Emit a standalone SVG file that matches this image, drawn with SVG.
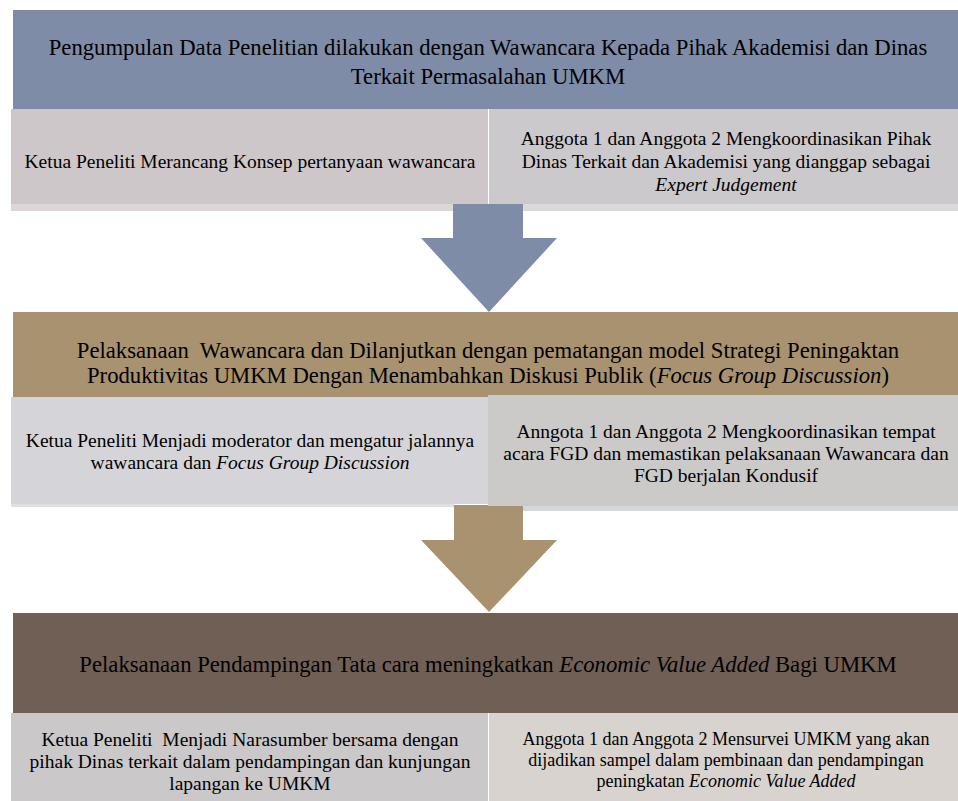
<svg xmlns="http://www.w3.org/2000/svg" width="958" height="801" viewBox="0 0 958 801">
<style>
text{font-family:"Liberation Serif","Times New Roman",serif;fill:#000;text-anchor:middle}
.b{font-size:22.7px}
.s{font-size:19.5px}
.s2{font-size:18px}
.i{font-style:italic}
</style>
<rect width="958" height="801" fill="#fff"/>
<g id="connectors">
<path id="arrow1" d="M453 204H523V238H557L489 312L421 238H453Z" fill="#7f8ca8"/>
<path id="arrow2" d="M454 505H523V540H557L489 612L421 540H454Z" fill="#a9926f"/>
</g>
<g id="step1">
<rect x="13" y="10" width="945" height="99" fill="#7f8ca8"/>
<text class="b" x="488" y="55">Pengumpulan Data Penelitian dilakukan dengan Wawancara Kepada Pihak Akademisi dan Dinas</text>
<text class="b" x="488" y="84">Terkait Permasalahan UMKM</text>
</g>
<g id="step1-left">
<rect x="11" y="109" width="477" height="95" fill="#cdc7c9"/>
<rect x="11" y="204" width="442" height="7" fill="#ddd6d7"/>
<text class="s" x="250" y="168">Ketua Peneliti Merancang Konsep pertanyaan wawancara</text>
</g>
<g id="step1-right">
<rect x="489" y="109" width="469" height="95" fill="#cbc9cc"/>
<rect x="523" y="204" width="435" height="7" fill="#dcd9dc"/>
<text class="s" x="726" y="145">Anggota 1 dan Anggota 2 Mengkoordinasikan Pihak</text>
<text class="s" x="726" y="168">Dinas Terkait dan Akademisi yang dianggap sebagai</text>
<text class="s i" x="726" y="191">Expert Judgement</text>
</g>
<g id="step2">
<rect x="13" y="312" width="945" height="85" fill="#a9926f"/>
<text class="b" x="488" y="358" xml:space="preserve">Pelaksanaan  Wawancara dan Dilanjutkan dengan pematangan model Strategi Peningaktan</text>
<text class="b" x="488" y="383">Produktivitas UMKM Dengan Menambahkan Diskusi Publik (<tspan class="i">Focus Group Discussion</tspan>)</text>
</g>
<g id="step2-left">
<rect x="11" y="397" width="477" height="107" fill="#d5d5d9"/>
<rect x="11" y="504" width="443" height="3" fill="#e0e0e4"/>
<text class="s" x="250" y="447">Ketua Peneliti Menjadi moderator dan mengatur jalannya</text>
<text class="s" x="250" y="469">wawancara dan <tspan class="i">Focus Group Discussion</tspan></text>
</g>
<g id="step2-right">
<rect x="488" y="395" width="470" height="111" fill="#cbcac8"/>
<rect x="523" y="506" width="435" height="5" fill="#d6d7db"/>
<text class="s" x="726" y="438">Anngota 1 dan Anggota 2 Mengkoordinasikan tempat</text>
<text class="s" x="726" y="460">acara FGD dan memastikan pelaksanaan Wawancara dan</text>
<text class="s" x="726" y="482">FGD berjalan Kondusif</text>
</g>
<g id="step3">
<rect x="13" y="613" width="945" height="100" fill="#705f55"/>
<text class="b" x="488" y="672">Pelaksanaan Pendampingan Tata cara meningkatkan <tspan class="i">Economic Value Added</tspan> Bagi UMKM</text>
</g>
<g id="step3-left">
<rect x="11" y="713" width="477" height="88" fill="#cac8c8"/>
<text class="s" x="250" y="746" xml:space="preserve">Ketua Peneliti  Menjadi Narasumber bersama dengan</text>
<text class="s" x="250" y="768">pihak Dinas terkait dalam pendampingan dan kunjungan</text>
<text class="s" x="250" y="790">lapangan ke UMKM</text>
</g>
<g id="step3-right">
<rect x="489" y="713" width="469" height="88" fill="#d8d3ce"/>
<text class="s2" x="726" y="745">Anggota 1 dan Anggota 2 Mensurvei UMKM yang akan</text>
<text class="s2" x="726" y="766">dijadikan sampel dalam pembinaan dan pendampingan</text>
<text class="s2" x="726" y="787">peningkatan <tspan class="i">Economic Value Added</tspan></text>
</g>
</svg>
